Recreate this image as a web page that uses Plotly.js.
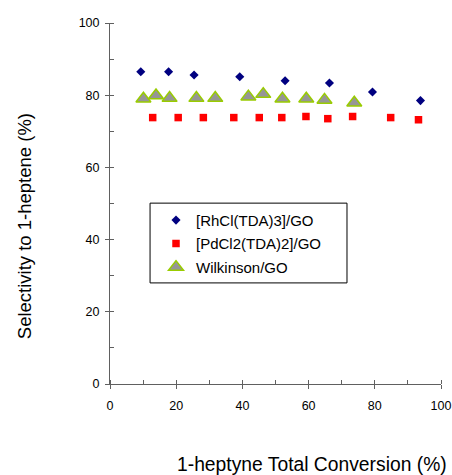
<!DOCTYPE html>
<html>
<head>
<meta charset="utf-8">
<script src="https://cdn.plot.ly/plotly-3.0.1.min.js"></script>
<style>html,body{margin:0;padding:0;background:#fff;}#chart{width:452px;height:475px;}</style>
</head>
<body>
<div id="chart"></div>
<script>
const rhX = [9.3, 17.7, 25.4, 39.2, 52.9, 66.3, 79.3, 93.8];
const rhY = [86.5, 86.5, 85.6, 85.1, 84.0, 83.4, 80.9, 78.5];
const pdX = [12.9, 20.6, 28.2, 37.4, 45.1, 51.9, 59.2, 65.8, 73.3, 84.8, 93.2];
const pdY = [73.8, 73.8, 73.8, 73.8, 73.8, 73.8, 74.1, 73.5, 74.1, 73.8, 73.2];
const wkX = [10.1, 13.9, 18.0, 26.1, 31.8, 41.8, 46.3, 52.1, 59.3, 64.8, 73.8];
const wkY = [79.0, 79.9, 79.2, 79.2, 79.2, 79.6, 80.3, 79.0, 79.0, 78.7, 77.9];
const seriesNames = ['[RhCl(TDA)3]/GO', '[PdCl2(TDA)2]/GO', 'Wilkinson/GO'];
const xTitle = '1-heptyne Total Conversion (%)';
const yTitle = 'Selectivity to 1-heptene (%)';

const font = 'Arial, "Liberation Sans", sans-serif';
const traces = [
  {x: rhX, y: rhY, name: seriesNames[0], type: 'scatter', mode: 'markers', legendgroup: 'a',
   marker: {symbol: 'diamond', size: 7, color: '#000080'}},
  {x: pdX, y: pdY, name: seriesNames[1], type: 'scatter', mode: 'markers', legendgroup: 'b',
   marker: {symbol: 'square', size: 7.5, color: '#FF0000'}},
  {x: wkX, y: wkY, name: seriesNames[2], type: 'scatter', mode: 'markers', legendgroup: 'c',
   marker: {symbol: 'triangle-up', size: 13, color: '#969696', line: {color: '#99CC00', width: 1.5}}}
];
const axisCommon = {
  showgrid: false, zeroline: false, showline: true, linecolor: '#606060', linewidth: 1,
  ticks: 'outside', ticklen: 4, tickcolor: '#606060', tickwidth: 1,
  tickfont: {family: font, size: 12.5, color: '#000'},
  minor: {ticks: 'inside', ticklen: 4, tickcolor: '#606060', dtick: 10}
};
const layout = {
  width: 452, height: 475,
  margin: {l: 110, r: 11, t: 23, b: 91},
  paper_bgcolor: '#fff', plot_bgcolor: '#fff',
  showlegend: true,
  xaxis: Object.assign({}, axisCommon, {range: [0, 100], dtick: 20, tick0: 0, ticklabelstandoff: 6}),
  yaxis: Object.assign({}, axisCommon, {range: [0, 100], dtick: 20, tick0: 0, ticklabelstandoff: 3}),
  legend: {x: 0.139, y: 0.499, xanchor: 'left', yanchor: 'top',
           bgcolor: 'rgba(0,0,0,0)', borderwidth: 0,
           font: {family: font, size: 15, color: '#000'},
           traceorder: 'grouped', tracegroupgap: 1},
  shapes: [
    {type: 'rect', xref: 'paper', yref: 'paper', x0: 0.121, x1: 0.716, y0: 0.280, y1: 0.501,
     line: {color: '#000', width: 1}, fillcolor: '#fff', layer: 'below'}
  ],
  annotations: [
    {text: xTitle, xref: 'paper', yref: 'paper', x: 0.609, y: -0.224, xanchor: 'center', yanchor: 'middle',
     showarrow: false, font: {family: font, size: 19.3, color: '#000'}},
    {text: yTitle, xref: 'paper', yref: 'paper', x: -0.26, y: 0.437, xanchor: 'center', yanchor: 'middle',
     textangle: -90, showarrow: false, font: {family: font, size: 18.5, color: '#000'}}
  ]
};
Plotly.newPlot('chart', traces, layout, {displayModeBar: false, staticPlot: true});
</script>
</body>
</html>
